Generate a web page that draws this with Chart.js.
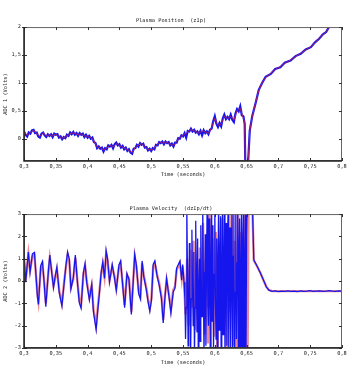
<!DOCTYPE html>
<html lang="en">
<head>
<meta charset="UTF-8">
<title>Plasma Position / Velocity</title>
<script src="https://cdn.jsdelivr.net/npm/chart.js"></script>
<style>
  * { margin: 0; padding: 0; box-sizing: border-box; }
  body { width: 352px; height: 388px; background: #fff; overflow: hidden; }
  .panel { position: absolute; left: 0; width: 352px; height: 194px; }
  #posPanel { top: 0; }
  #velPanel { top: 194px; }
</style>
</head>
<body>
<div class="panel" id="posPanel"><canvas id="posChart" width="352" height="194"></canvas></div>
<div class="panel" id="velPanel"><canvas id="velChart" width="352" height="194"></canvas></div>
<script>
// shared time axis ticks
const timeTicks = [0.3, 0.35, 0.4, 0.45, 0.5, 0.55, 0.6, 0.65, 0.7, 0.75, 0.8];
const timeLabels = ['0,3', '0,35', '0,4', '0,45', '0,5', '0,55', '0,6', '0,65', '0,7', '0,75', '0,8'];

// Plasma position (zIp)
const posYTicks = [0, 0.5, 1, 1.5, 2];
const posYLabels = ['0', '0,5', '1', '1,5', '2'];
const posTime = [
  0.3000,0.3025,0.3050,0.3075,0.3100,0.3125,0.3150,0.3175,0.3200,0.3225,
  0.3250,0.3275,0.3300,0.3325,0.3350,0.3375,0.3400,0.3425,0.3450,0.3475,
  0.3500,0.3525,0.3550,0.3575,0.3600,0.3625,0.3650,0.3675,0.3700,0.3725,
  0.3750,0.3775,0.3800,0.3825,0.3850,0.3875,0.3900,0.3925,0.3950,0.3975,
  0.4000,0.4025,0.4050,0.4075,0.4100,0.4125,0.4150,0.4175,0.4200,0.4225,
  0.4250,0.4275,0.4300,0.4325,0.4350,0.4375,0.4400,0.4425,0.4450,0.4475,
  0.4500,0.4525,0.4550,0.4575,0.4600,0.4625,0.4650,0.4675,0.4700,0.4725,
  0.4750,0.4775,0.4800,0.4825,0.4850,0.4875,0.4900,0.4925,0.4950,0.4975,
  0.5000,0.5025,0.5050,0.5075,0.5100,0.5125,0.5150,0.5175,0.5200,0.5225,
  0.5250,0.5275,0.5300,0.5325,0.5350,0.5375,0.5400,0.5425,0.5450,0.5475,
  0.5500,0.5525,0.5550,0.5575,0.5600,0.5625,0.5650,0.5675,0.5700,0.5725,
  0.5750,0.5775,0.5800,0.5825,0.5850,0.5875,0.5900,0.5925,0.5950,0.5975,
  0.6000,0.6025,0.6050,0.6075,0.6100,0.6125,0.6150,0.6175,0.6200,0.6225,
  0.6250,0.6275,0.6300,0.6325,0.6350,0.6375,0.6400,0.6425,0.6450,
  0.6470,0.6480,0.6505,0.6520,0.6550,0.6590,0.6640,0.6690,0.6750,0.6800,
  0.6880,0.6950,0.7030,0.7100,0.7190,0.7270,0.7350,0.7430,0.7510,0.7580,
  0.7640,0.7700,0.7750,0.7810,0.7900
];
const posRed = [
  0.12,0.09,0.06,0.09,0.11,0.13,0.15,0.12,0.09,0.06,
  0.04,0.07,0.10,0.08,0.05,0.06,0.07,0.06,0.05,0.07,
  0.08,0.06,0.04,0.02,0.01,0.02,0.03,0.05,0.07,0.09,
  0.10,0.10,0.09,0.08,0.07,0.08,0.09,0.07,0.05,0.05,
  0.04,0.03,0.02,0.00,-0.04,-0.10,-0.15,-0.16,-0.16,-0.18,
  -0.20,-0.19,-0.17,-0.14,-0.12,-0.13,-0.15,-0.12,-0.09,-0.10,
  -0.12,-0.14,-0.15,-0.17,-0.18,-0.20,-0.21,-0.23,-0.25,-0.20,
  -0.15,-0.13,-0.12,-0.10,-0.09,-0.11,-0.14,-0.17,-0.19,-0.20,
  -0.20,-0.19,-0.17,-0.13,-0.10,-0.08,-0.06,-0.07,-0.08,-0.07,
  -0.06,-0.08,-0.10,-0.11,-0.12,-0.09,-0.05,-0.01,0.02,0.04,
  0.06,0.08,0.09,0.12,0.15,0.16,0.15,0.14,0.13,0.11,
  0.10,0.12,0.14,0.13,0.12,0.11,0.10,0.14,0.20,0.28,
  0.36,0.30,0.24,0.25,0.26,0.33,0.40,0.38,0.36,0.38,
  0.40,0.37,0.33,0.42,0.50,0.52,0.54,0.45,0.36,
  0.30,-0.50,-0.50,-0.50,0.14,0.40,0.64,0.86,1.02,1.10,
  1.17,1.24,1.29,1.35,1.41,1.47,1.53,1.59,1.65,1.72,
  1.80,1.86,1.92,2.02,2.15
];
const posBlue = [
  0.13,0.07,0.04,0.11,0.09,0.15,0.16,0.10,0.11,0.04,
  0.02,0.09,0.11,0.06,0.03,0.08,0.05,0.08,0.03,0.09,
  0.07,0.08,0.02,0.04,-0.01,0.03,0.01,0.07,0.05,0.11,
  0.08,0.12,0.07,0.10,0.05,0.10,0.07,0.09,0.03,0.07,
  0.02,0.05,0.00,0.02,-0.06,-0.08,-0.17,-0.14,-0.18,-0.16,
  -0.23,-0.17,-0.19,-0.12,-0.14,-0.11,-0.17,-0.10,-0.07,-0.12,
  -0.10,-0.16,-0.13,-0.19,-0.16,-0.22,-0.19,-0.25,-0.27,-0.18,
  -0.17,-0.11,-0.14,-0.08,-0.11,-0.09,-0.16,-0.15,-0.21,-0.18,
  -0.22,-0.17,-0.19,-0.11,-0.12,-0.06,-0.08,-0.05,-0.10,-0.05,
  -0.08,-0.06,-0.12,-0.09,-0.14,-0.07,-0.07,0.01,0.00,0.06,
  0.04,0.10,0.02,0.14,0.13,0.18,0.13,0.16,0.11,0.13,
  0.08,0.14,0.06,0.15,0.10,0.13,0.08,0.16,0.18,0.31,
  0.40,0.27,0.21,0.28,0.22,0.36,0.43,0.35,0.39,0.35,
  0.43,0.34,0.30,0.45,0.53,0.49,0.58,0.42,0.40,
  0.26,-0.50,-0.50,-0.50,0.15,0.41,0.63,0.87,1.01,1.11,
  1.16,1.25,1.28,1.36,1.40,1.48,1.52,1.60,1.64,1.73,
  1.79,1.87,1.91,2.03,2.15
];

// Plasma velocity (dzIp/dt)
const velYTicks = [-3, -2, -1, 0, 1, 2, 3];
const velYLabels = ['-3', '-2', '-1', '0', '1', '2', '3'];
const velTimeRed = [
  0.3000,0.3026,0.3069,0.3095,0.3132,0.3164,0.3211,0.3227,0.3264,0.3290,
  0.3316,0.3343,0.3385,0.3406,0.3438,0.3464,0.3491,0.3517,0.3554,0.3596,
  0.3633,0.3659,0.3686,0.3712,0.3738,0.3775,0.3807,0.3844,0.3870,0.3897,
  0.3934,0.3960,0.3986,0.4028,0.4065,0.4092,0.4134,0.4160,0.4187,0.4213,
  0.4239,0.4266,0.4292,0.4313,0.4345,0.4387,0.4424,0.4451,0.4493,0.4519,
  0.4556,0.4582,0.4619,0.4651,0.4688,0.4714,0.4741,0.4767,0.4804,0.4830,
  0.4857,0.4883,0.4925,0.4952,0.4978,0.5004,0.5031,0.5057,0.5094,0.5126,
  0.5162,0.5189,0.5215,0.5242,0.5284,0.5310,0.5347,0.5374,0.5400,0.5426,
  0.5452,0.5479,0.5495,0.5516,
  0.5540,0.5565,0.5590,0.5615,0.5640,0.5665,0.5690,0.5715,0.5740,0.5765,
  0.5790,0.5815,0.5840,0.5865,0.5890,0.5915,0.5940,0.5965,0.5990,0.6015,
  0.6040,0.6065,0.6090,0.6115,0.6140,0.6165,0.6190,0.6215,0.6240,0.6265,
  0.6290,0.6315,0.6340,0.6365,0.6390,0.6415,0.6440,0.6465,0.6490,0.6515,
  0.6530,0.6590,
  0.6613,0.6666,0.6720,0.6770,0.6810,0.6850,0.6900,0.8000
];
const velRed = [
  1.06,0.01,1.20,0.46,1.10,1.18,-0.58,-0.92,0.61,0.76,
  0.01,-1.00,0.46,1.04,0.39,-0.21,0.16,0.54,-0.43,-1.00,
  0.01,0.61,1.18,0.91,-0.28,0.09,1.04,-0.13,-0.88,-1.08,
  0.31,0.68,0.01,-0.73,-0.21,-1.25,-2.00,-1.18,-0.43,0.31,
  0.76,0.20,1.25,0.95,0.04,0.64,0.19,-0.33,0.64,0.79,
  -0.25,-1.07,0.27,0.12,-1.37,-0.10,1.09,0.64,-0.48,-0.70,
  0.79,0.27,-0.33,-0.85,-1.22,-0.77,0.64,0.79,0.27,-0.10,
  -0.70,-1.74,-0.70,0.04,-0.70,-1.29,-0.40,-0.25,0.49,0.64,
  0.79,0.12,0.64,0.04,
  -1.5,1.0,-2.0,1.4,-1.2,1.8,-2.2,0.6,-1.8,1.5,
  -0.8,2.6,-2.4,1.2,-2.8,3.4,-1.0,1.9,-2.5,2.2,
  -3.2,1.5,-1.6,2.8,-2.2,0.9,-3.4,2.4,-1.4,3.5,
  -2.9,1.8,-3.5,3.5,-2.0,2.2,-3.5,3.5,-3.5,-3.5,
  3.5,3.5,
  0.92,0.65,0.35,0.00,-0.25,-0.40,-0.45,-0.45
];
const velTimeBlue = [
  0.3000,0.3026,0.3069,0.3095,0.3132,0.3164,0.3211,0.3227,0.3264,0.3290,
  0.3316,0.3343,0.3385,0.3406,0.3438,0.3464,0.3491,0.3517,0.3554,0.3596,
  0.3633,0.3659,0.3686,0.3712,0.3738,0.3775,0.3807,0.3844,0.3870,0.3897,
  0.3934,0.3960,0.3986,0.4028,0.4065,0.4092,0.4134,0.4160,0.4187,0.4213,
  0.4239,0.4266,0.4292,0.4313,0.4345,0.4387,0.4424,0.4451,0.4493,0.4519,
  0.4556,0.4582,0.4619,0.4651,0.4688,0.4714,0.4741,0.4767,0.4804,0.4830,
  0.4857,0.4883,0.4925,0.4952,0.4978,0.5004,0.5031,0.5057,0.5094,0.5126,
  0.5162,0.5189,0.5215,0.5242,0.5284,0.5310,0.5347,0.5374,0.5400,0.5426,
  0.5452,0.5479,0.5495,0.5516,
  0.553,0.554,0.555,0.556,0.557,0.558,0.559,0.560,0.561,0.562,
  0.563,0.564,0.565,0.566,0.567,0.568,0.569,0.570,0.571,0.572,
  0.573,0.574,0.575,0.576,0.577,0.578,0.579,0.580,0.581,0.582,
  0.583,0.584,0.585,0.586,0.587,0.588,0.589,0.590,0.591,0.592,
  0.593,0.594,0.595,0.596,0.597,0.598,0.599,0.600,0.601,0.602,
  0.603,0.604,0.605,0.606,0.607,0.608,0.609,0.610,0.611,0.612,
  0.613,0.614,0.615,0.616,0.617,0.618,0.619,0.620,0.621,0.622,
  0.623,0.624,0.625,0.626,0.627,0.628,0.629,0.630,0.631,0.632,
  0.633,0.634,0.635,0.636,0.637,0.638,0.639,0.640,0.641,0.642,
  0.643,0.644,0.645,0.646,0.647,0.648,0.649,0.650,0.651,
  0.6590,0.6613,0.6666,0.6720,0.6770,0.6810,0.6850,0.6900,0.6950,
  0.7000,0.7050,0.7100,0.7150,0.7200,0.7250,0.7300,0.7350,0.7400,0.7450,
  0.7500,0.7550,0.7600,0.7650,0.7700,0.7750,0.7800,0.7850,0.7900,0.7950,
  0.8000
];
const velBlue = [
  1.18,-0.05,1.30,0.40,1.22,1.28,-0.70,-1.05,0.70,0.88,
  -0.05,-1.15,0.50,1.16,0.33,-0.30,0.22,0.62,-0.52,-1.12,
  -0.04,0.70,1.30,0.98,-0.36,0.15,1.16,-0.20,-0.98,-1.22,
  0.38,0.78,-0.06,-0.84,-0.15,-1.38,-2.18,-1.30,-0.50,0.38,
  0.86,0.12,1.36,1.02,-0.04,0.74,0.12,-0.42,0.72,0.90,
  -0.34,-1.20,0.34,0.05,-1.50,-0.18,1.20,0.70,-0.58,-0.80,
  0.90,0.20,-0.42,-0.96,-1.35,-0.86,0.74,0.90,0.20,-0.18,
  -0.80,-1.88,-0.78,0.12,-0.80,-1.42,-0.48,-0.32,0.58,0.74,
  0.90,0.04,0.74,-0.06,
  -0.8,-2.6,-1.2,3.4,0.5,-2.9,-1.0,1.7,-0.5,-3.3,
  -0.8,2.3,-0.4,-2.0,1.3,-3.4,-1.2,2.7,0.2,-2.3,
  1.9,-3.2,-0.6,1.0,-2.7,2.5,-0.3,-1.6,3.5,0.4,
  -3.4,-0.9,2.1,-2.9,0.8,3.6,-1.1,-2.0,2.8,-0.6,
  -3.5,1.2,3.4,-1.8,2.5,-3.3,0.3,3.6,-0.9,-2.6,
  1.9,-3.4,0.7,3.5,-2.2,1.0,2.9,-3.6,0.4,3.2,
  -2.4,0.6,3.6,-3.5,-0.2,2.6,-2.9,1.4,3.6,-3.6,
  0.9,2.4,-3.0,0.2,3.6,-3.4,1.1,3.0,-3.6,-0.5,
  3.5,-2.6,0.8,3.6,-3.6,1.3,2.8,-3.4,0.0,3.6,
  -3.6,1.6,3.1,-3.5,0.6,3.6,-3.6,2.0,3.6,
  3.6,0.95,0.66,0.34,0.01,-0.26,-0.41,-0.46,-0.44,
  -0.47,-0.45,-0.46,-0.44,-0.46,-0.45,-0.47,-0.44,-0.46,-0.45,
  -0.43,-0.46,-0.45,-0.44,-0.46,-0.45,-0.43,-0.45,-0.46,-0.44,
  -0.45
];

Chart.defaults.font.family = '"DejaVu Sans Mono", monospace';
Chart.defaults.font.size = 5.3;
Chart.defaults.color = '#222';

// boxed frame with inward tick marks, like the original plotting tool
const framePlugin = {
  id: 'frame',
  afterDatasetsDraw(chart) {
    const { ctx, chartArea: a, scales: { x, y } } = chart;
    ctx.save();
    ctx.strokeStyle = '#666';
    ctx.lineWidth = 1;
    ctx.strokeRect(a.left + 0.5, a.top + 0.5, a.right - a.left - 1, a.bottom - a.top - 1);
    ctx.strokeStyle = '#333';
    ctx.beginPath();
    x.ticks.forEach(t => {
      const px = Math.round(x.getPixelForValue(t.value)) + 0.5;
      ctx.moveTo(px, a.top); ctx.lineTo(px, a.top + 3);
      ctx.moveTo(px, a.bottom); ctx.lineTo(px, a.bottom - 3);
    });
    y.ticks.forEach(t => {
      const py = Math.round(y.getPixelForValue(t.value)) + 0.5;
      ctx.moveTo(a.left - 2, py); ctx.lineTo(a.left + 3, py);
      ctx.moveTo(a.right, py); ctx.lineTo(a.right - 3, py);
    });
    ctx.stroke();
    ctx.strokeStyle = '#222';
    ctx.lineWidth = 1.5;
    ctx.beginPath();
    ctx.moveTo(a.left, a.top);
    ctx.lineTo(a.left, a.bottom);
    ctx.lineTo(a.right, a.bottom);
    ctx.stroke();
    ctx.restore();
  }
};

function series(times, values) {
  return times.map((t, i) => ({ x: t, y: values[i] }));
}

function makeChart(id, o) {
  return new Chart(document.getElementById(id), {
    type: 'line',
    data: { datasets: o.datasets },
    options: {
      responsive: false,
      animation: false,
      devicePixelRatio: 1,
      layout: { padding: { left: 0, right: 10, top: 0, bottom: 0 } },
      elements: { point: { radius: 0 }, line: { tension: 0 } },
      plugins: {
        legend: { display: false },
        tooltip: { enabled: false },
        title: {
          display: true,
          text: o.title,
          color: '#222',
          font: { size: 5.3, weight: 'normal', lineHeight: 1.2 },
          padding: o.titlePad
        }
      },
      scales: {
        x: {
          type: 'linear',
          min: 0.3,
          max: 0.8,
          grid: { display: false, drawTicks: false },
          border: { display: false },
          afterBuildTicks: s => { s.ticks = timeTicks.map(v => ({ value: v })); },
          afterFit: s => { s.height = o.xHeight; },
          ticks: {
            padding: 2,
            maxRotation: 0,
            autoSkip: false,
            callback: (v, i) => timeLabels[i]
          },
          title: { display: true, text: 'Time (seconds)', font: { size: 5.3, lineHeight: 1.2 }, padding: o.xTitlePad }
        },
        y: {
          min: o.yMin,
          max: o.yMax,
          grid: { display: false, drawTicks: false },
          border: { display: false },
          afterBuildTicks: s => { s.ticks = o.yTicks.map(v => ({ value: v })); },
          afterFit: s => { s.width = 24; },
          ticks: {
            padding: 3,
            callback: (v, i) => o.yLabels[i]
          },
          title: { display: true, text: o.yTitle, font: { size: 5.3, lineHeight: 1.2 }, padding: { top: 2.8, bottom: 0 } }
        }
      }
    },
    plugins: [framePlugin]
  });
}

makeChart('posChart', {
  title: 'Plasma Position  (zIp)',
  titlePad: { top: 17.8, bottom: 2.9 },
  xHeight: 33,
  xTitlePad: { top: 0, bottom: 15.8 },
  yTitle: 'ADC 1 (Volts)',
  yMin: -0.4, yMax: 2,
  yTicks: posYTicks, yLabels: posYLabels,
  datasets: [
    { data: series(posTime, posRed), borderColor: 'rgba(215,35,60,0.75)', borderWidth: 1, order: 0 },
    { data: series(posTime, posBlue), borderColor: '#1414f0', borderWidth: 2.2, order: 1 }
  ]
});

// velocity: blue trace drawn over a wider pale red trace
makeChart('velChart', {
  title: 'Plasma Velocity  (dzIp/dt)',
  titlePad: { top: 11.1, bottom: 2.6 },
  xHeight: 40,
  xTitlePad: { top: 0, bottom: 21.8 },
  yTitle: 'ADC 2 (Volts)',
  yMin: -3, yMax: 3,
  yTicks: velYTicks, yLabels: velYLabels,
  datasets: [
    { data: series(velTimeRed, velRed), borderColor: 'rgba(225,95,110,0.75)', borderWidth: 2.4, order: 1 },
    { data: series(velTimeBlue, velBlue), borderColor: '#1515ee', borderWidth: 1.25, order: 0 }
  ]
});
</script>
</body>
</html>
